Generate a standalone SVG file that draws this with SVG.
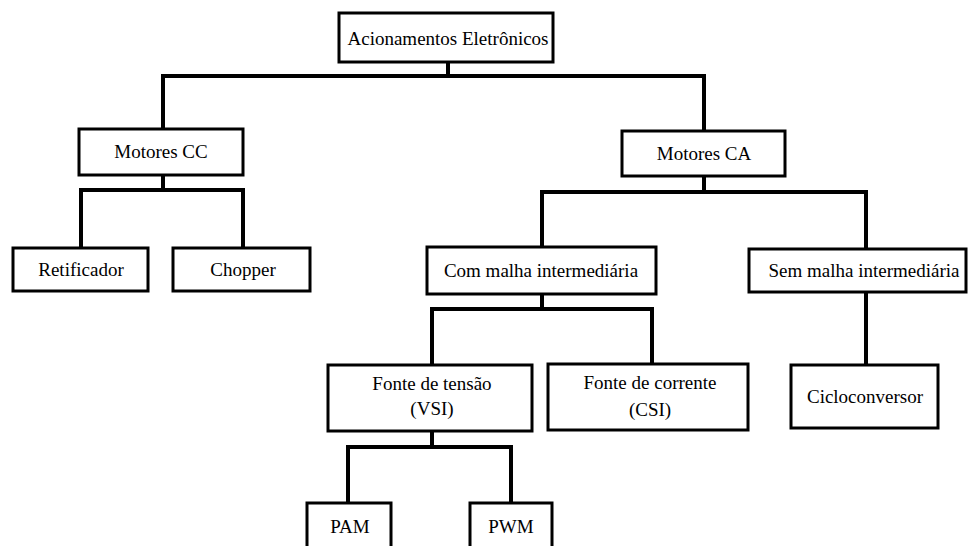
<svg xmlns="http://www.w3.org/2000/svg" width="968" height="546" viewBox="0 0 968 546">
  <style>
    .box { fill: #ffffff; stroke: #000000; stroke-width: 3; }
    .lbl { font-family: "Liberation Serif", "Times New Roman", serif; font-size: 19px; fill: #000000; text-anchor: middle; }
    .wire { fill: none; stroke: #000000; stroke-width: 4; stroke-linecap: square; stroke-linejoin: miter; }
  </style>
  <rect width="968" height="546" fill="#ffffff"/>

  <!-- tree connectors -->
  <g id="connectors">
    <path class="wire" d="M448,62 V76 M163,129 V76 H704 V131"/>
    <path class="wire" d="M163,175 V190 M81,248 V190 H243 V248"/>
    <path class="wire" d="M704,176 V192 M542,247 V192 H866 V249"/>
    <path class="wire" d="M542,294 V309 M432,365 V309 H652 V364"/>
    <path class="wire" d="M866,292 V365"/>
    <path class="wire" d="M432,431 V447 M348,503 V447 H511 V503"/>
  </g>

  <g id="acionamentos">
    <rect class="box" x="339" y="13" width="214" height="49"/>
    <text class="lbl" x="448" y="45">Acionamentos Eletrônicos</text>
  </g>

  <g id="motores-cc">
    <rect class="box" x="79" y="129" width="164" height="46"/>
    <text class="lbl" x="161" y="158">Motores CC</text>
  </g>

  <g id="motores-ca">
    <rect class="box" x="622" y="131" width="163" height="45"/>
    <text class="lbl" x="704" y="160">Motores CA</text>
  </g>

  <g id="retificador">
    <rect class="box" x="13" y="248" width="135" height="43"/>
    <text class="lbl" x="81" y="276">Retificador</text>
  </g>

  <g id="chopper">
    <rect class="box" x="173" y="248" width="137" height="43"/>
    <text class="lbl" x="243" y="276">Chopper</text>
  </g>

  <g id="com-malha">
    <rect class="box" x="427" y="247" width="229" height="47"/>
    <text class="lbl" x="541" y="277">Com malha intermediária</text>
  </g>

  <g id="sem-malha">
    <rect class="box" x="749" y="249" width="217" height="43"/>
    <text class="lbl" x="864" y="277">Sem malha intermediária</text>
  </g>

  <g id="fonte-tensao">
    <rect class="box" x="328" y="365" width="204" height="66"/>
    <text class="lbl" x="432" y="390">Fonte de tensão</text>
    <text class="lbl" x="432" y="415">(VSI)</text>
  </g>

  <g id="fonte-corrente">
    <rect class="box" x="548" y="364" width="200" height="66"/>
    <text class="lbl" x="650" y="389">Fonte de corrente</text>
    <text class="lbl" x="650" y="416">(CSI)</text>
  </g>

  <g id="cicloconversor">
    <rect class="box" x="791" y="365" width="147" height="63"/>
    <text class="lbl" x="865" y="403">Cicloconversor</text>
  </g>

  <g id="pam">
    <rect class="box" x="307" y="503" width="84" height="50"/>
    <text class="lbl" x="350" y="533">PAM</text>
  </g>

  <g id="pwm">
    <rect class="box" x="470" y="503" width="82" height="50"/>
    <text class="lbl" x="511" y="533">PWM</text>
  </g>
</svg>
